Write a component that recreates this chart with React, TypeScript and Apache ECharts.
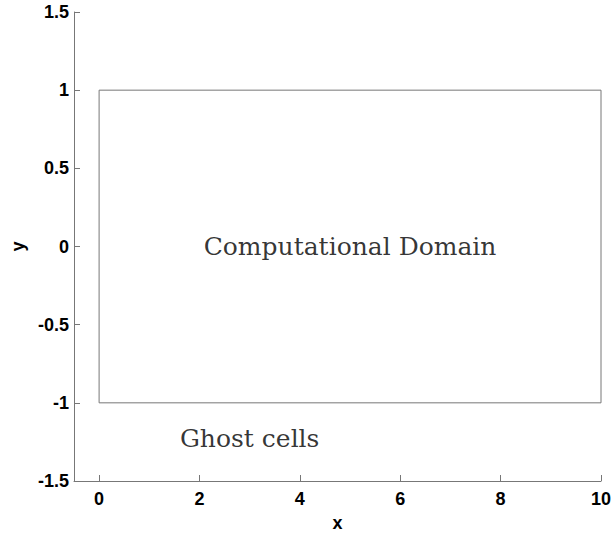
import React, { useEffect, useRef } from "react";
import * as echarts from "echarts";

const domainX = [0, 10, 10, 0, 0];
const domainY = [-1, -1, 1, 1, -1];
const xTicks = [0, 2, 4, 6, 8, 10];
const yTicks = [-1.5, -1, -0.5, 0, 0.5, 1, 1.5];
const annotations = ["Computational Domain", "Ghost cells"];
const annotationX = [5.0, 3.0];
const annotationY = [0.0, -1.23];

export default function App() {
  const ref = useRef<HTMLDivElement>(null);
  useEffect(() => {
    if (!ref.current) return;
    const chart = echarts.init(ref.current, null, { renderer: "svg" });
    const axisLabel = { fontFamily: "Liberation Sans, Arial, sans-serif", fontWeight: "bold", fontSize: 18, color: "#000" };
    chart.setOption({
      animation: false,
      grid: { left: 74, right: 11, top: 12, bottom: 55, containLabel: false, outerBoundsMode: "none" },
      xAxis: {
        type: "value", min: -0.5, max: 10,
        name: "x", nameLocation: "middle", nameGap: 33,
        nameTextStyle: { ...axisLabel },
        axisLine: { show: true, onZero: false, lineStyle: { color: "#777", width: 1 } },
        axisTick: { show: true, inside: true, length: 6, lineStyle: { color: "#777" }, customValues: xTicks },
        axisLabel: { ...axisLabel, margin: 9, customValues: xTicks },
        splitLine: { show: false },
      },
      yAxis: {
        type: "value", min: -1.5, max: 1.5,
        name: "y", nameLocation: "middle", nameGap: 46, nameRotate: 90,
        nameTextStyle: { ...axisLabel },
        axisLine: { show: true, onZero: false, lineStyle: { color: "#777", width: 1 } },
        axisTick: { show: true, inside: true, length: 6, lineStyle: { color: "#777" }, customValues: yTicks },
        axisLabel: { ...axisLabel, margin: 5, customValues: yTicks },
        splitLine: { show: false },
      },
      series: [
        {
          type: "line",
          data: domainX.map((x, i) => [x, domainY[i]]),
          symbol: "none",
          lineStyle: { color: "#777", width: 1 },
        },
        {
          type: "scatter",
          symbolSize: 0,
          data: annotations.map((t, i) => ({ value: [annotationX[i], annotationY[i]], name: t })),
          label: {
            show: true, position: "inside", formatter: (p: any) => p.name,
            fontFamily: "DejaVu Serif, serif", fontSize: 25, color: "#000",
          },
        },
      ],
    });
    return () => chart.dispose();
  }, []);
  return <div ref={ref} style={{ width: 612, height: 536, position: "absolute", left: 0, top: 0 }} />;
}
